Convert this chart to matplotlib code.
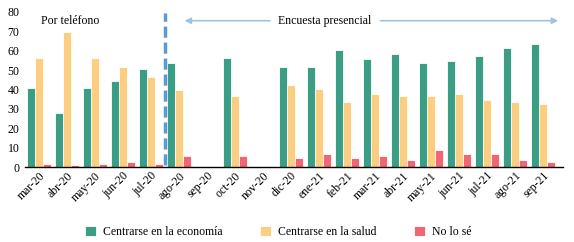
import matplotlib
matplotlib.use("Agg")
import matplotlib.pyplot as plt
import numpy as np

plt.rcParams['font.family'] = ['Liberation Serif', 'DejaVu Serif']

months = ["mar-20", "abr-20", "may-20", "jun-20", "jul-20", "ago-20", "sep-20", "oct-20",
          "nov-20", "dic-20", "ene-21", "feb-21", "mar-21", "abr-21", "may-21", "jun-21",
          "jul-21", "ago-21", "sep-21"]
economia = [41, 28, 41, 44.5, 50.5, 53.5, np.nan, 56.5, np.nan, 51.5, 51.5, 60.5, 55.5, 58.5, 53.5, 54.5, 57.5, 61.5, 63.5]
salud = [56.5, 69.5, 56.5, 51.5, 46.5, 40, np.nan, 36.5, np.nan, 42.5, 40.5, 33.5, 37.5, 36.5, 36.5, 37.5, 34.5, 33.5, 32.5]
no_se = [1.7, 0.8, 1.7, 2.6, 1.7, 5.7, np.nan, 5.7, np.nan, 4.6, 6.7, 4.6, 5.7, 3.6, 8.6, 6.7, 6.7, 3.6, 2.6]
series_names = ["Centrarse en la economía", "Centrarse en la salud", "No lo sé"]
colors = ["#3A9E84", "#FECE80", "#F16575"]

fig = plt.figure(figsize=(5.74, 2.42), dpi=100)
ax = fig.add_axes([25/574, 75/242, 538/574, 155/242])

x = np.arange(len(months))
w = 0.285
for off, vals, c, name in zip([-w, 0, w], [economia, salud, no_se], colors, series_names):
    ax.bar(x + off, vals, width=w, color=c, edgecolor="white", linewidth=0.6, label=name)

ax.set_xlim(-0.5, 18.72)
ax.set_ylim(0, 80)
ax.set_yticks(np.arange(0, 81, 10))
ax.tick_params(axis='y', length=0, labelsize=8.5, pad=4)
ax.tick_params(axis='x', length=0, labelsize=8.5, pad=2)
ax.set_xticks(x)
ax.set_xticklabels(months, rotation=45, ha='right', rotation_mode='anchor')
for s in ['top', 'right', 'left']:
    ax.spines[s].set_visible(False)
ax.spines['bottom'].set_color('black')
ax.spines['bottom'].set_linewidth(1.0)

# divider
ax.plot([4.5, 4.5], [0.8, 79.5], color="#5B9BD5", linestyle=(0, (3.2, 1.4)), linewidth=2.5, clip_on=False)

ax.text(0.07, 75.5, "Por teléfono", fontsize=8.5, va='center', ha='left')
ax.annotate("", xy=(5.2, 75.5), xytext=(8.25, 75.5),
            arrowprops=dict(arrowstyle="-|>", color="#9DC3E6", lw=1.2, mutation_scale=9, shrinkA=0, shrinkB=0))
ax.text(10.2, 75.5, "Encuesta presencial", fontsize=8.5, va='center', ha='center')
ax.annotate("", xy=(18.55, 75.5), xytext=(12.2, 75.5),
            arrowprops=dict(arrowstyle="-|>", color="#9DC3E6", lw=1.2, mutation_scale=9, shrinkA=0, shrinkB=0))

fig.legend(loc='center', bbox_to_anchor=(0.485, 10/242), ncol=3, frameon=False,
           fontsize=8.5, handlelength=0.9, handleheight=0.9, columnspacing=3.2, handletextpad=0.6)

fig.savefig("out.png", dpi=100)
